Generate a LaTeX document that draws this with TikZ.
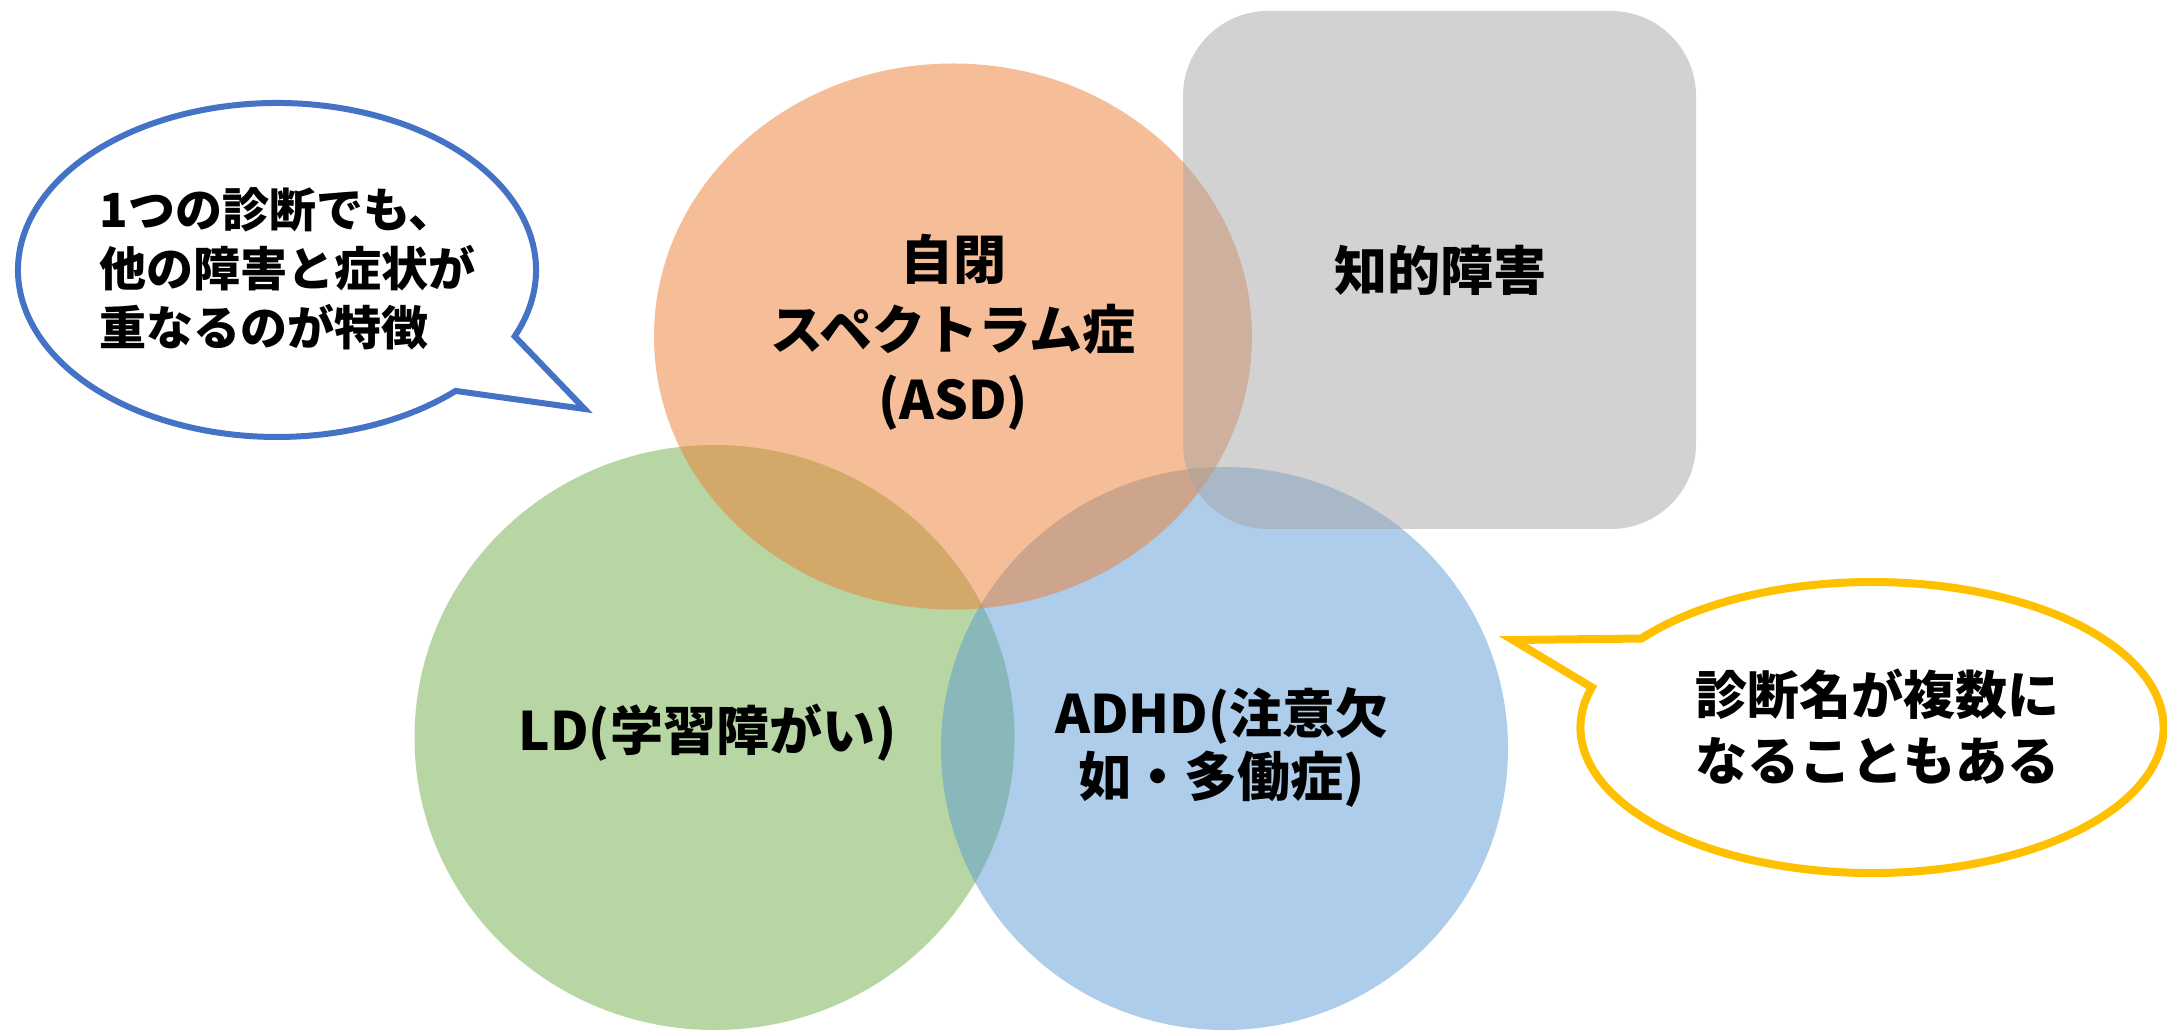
\documentclass[tikz,border=0pt]{standalone}
\usepackage{fontspec}
\setmainfont{Noto Sans CJK JP}
\usetikzlibrary{calc}
\definecolor{cOrange}{HTML}{ED7D31}
\definecolor{cGreen}{HTML}{70AD47}
\definecolor{cBlue}{HTML}{5B9BD5}
\definecolor{cGray}{HTML}{A5A5A5}
\definecolor{cLine}{HTML}{4472C4}
\definecolor{cGold}{HTML}{FFC000}
\tikzset{
  setshape/.style={fill opacity=0.5},
  lbl/.style={font=\bfseries\fontsize{53pt}{70pt}\selectfont, align=center, inner sep=0pt, text=black},
  lbltwo/.style={font=\bfseries\fontsize{53pt}{63pt}\selectfont, align=center, inner sep=0pt, text=black},
  bubtxt/.style={font=\bfseries\fontsize{47pt}{59pt}\selectfont, align=left, inner sep=0pt, text=black},
  bubtxtr/.style={font=\bfseries\fontsize{52pt}{66pt}\selectfont, align=center, inner sep=0pt, text=black},
  lbubble/.style={draw=cLine, fill=white, line width=6pt, line join=miter},
  rbubble/.style={draw=cGold, fill=white, line width=8pt, line join=miter},
}
\begin{document}
\begin{tikzpicture}[x=1pt,y=1pt]
\useasboundingbox (0,0) rectangle (2167,1031);
% sets
\fill[cGreen, setshape] (714.5,293.5) ellipse [x radius=300pt, y radius=292.5pt];
\fill[cBlue, setshape] (1224.5,282.5) ellipse [x radius=283.5pt, y radius=281.5pt];
\fill[cOrange, setshape] (953,694.5) ellipse [x radius=299pt, y radius=273pt];
\fill[cGray, setshape, rounded corners=85pt] (1183,502) rectangle (1696,1020);
% labels
\node[lbl] (asd) at (953,699) {自閉\\スペクトラム症\\(ASD)};
\node[lbl] (id) at (1440,761) {知的障害};
\node[lbl] (ld) at (707.5,298.5) {LD(学習障がい)};
\node[lbltwo] (adhd) at (1222,284) {ADHD(注意欠\\如・多働症)};
% left bubble
\coordinate (lbc) at (277,761);
\coordinate (ltip) at (584.6,622);
\draw[lbubble] ($(lbc)+(-23.4:259pt and 167pt)$) arc[start angle=-23.4, end angle=313.6, x radius=259pt, y radius=167pt] -- (ltip) -- cycle;
\node[bubtxt, anchor=west] (lnote) at (99.5,762) {1つの診断でも、\\他の障害と症状が\\重なるのが特徴};
% right bubble
\coordinate (rbc) at (1872,303.5);
\coordinate (rtip) at (1513,391);
\draw[rbubble] ($(rbc)+(164:291.5pt and 145.5pt)$) arc[start angle=164, end angle=502.3, x radius=291.5pt, y radius=145.5pt] -- (rtip) -- cycle;
\node[bubtxtr] (rnote) at (1877,304) {診断名が複数に\\なることもある};
\end{tikzpicture}
\end{document}
